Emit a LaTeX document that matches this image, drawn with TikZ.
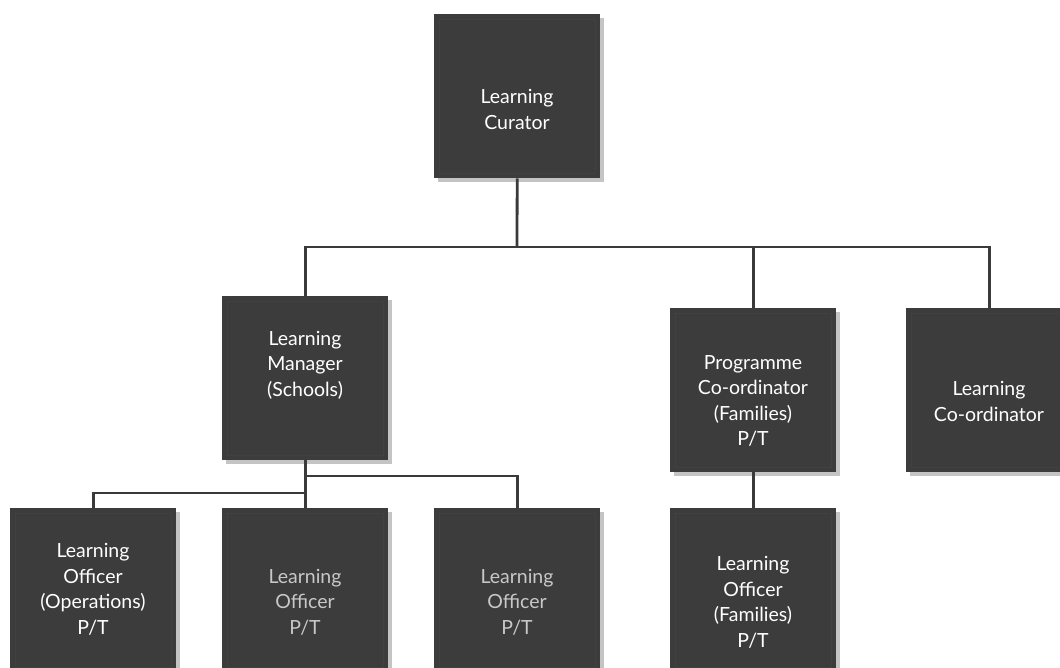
\documentclass[tikz,border=0pt]{standalone}
\usepackage{fontspec}
\setmainfont{Lato}
\usetikzlibrary{shadows}
\definecolor{boxc}{HTML}{3C3C3C}
\definecolor{innerc}{HTML}{414141}
\definecolor{shadc}{HTML}{C4C4C4}
\definecolor{linec}{HTML}{3A3A3A}
\definecolor{dimtxt}{HTML}{C8C8C8}
\tikzset{
  rolebox/.style={rectangle, fill=boxc, draw=none, minimum width=166pt, minimum height=164pt,
    inner sep=0pt, anchor=north west,
    drop shadow={shadow xshift=4pt, shadow yshift=-4pt, fill=shadc, opacity=1}},
  roletext/.style={align=center, text=white, inner sep=0pt,
    font=\fontsize{19.5}{25.5}\selectfont},
  dimtext/.style={roletext, text=dimtxt},
  conn/.style={draw=linec, line width=2.8pt}
}
\begin{document}
\begin{tikzpicture}[x=1pt,y=-1pt]
\useasboundingbox (0,0) rectangle (1060,668);
\clip (0,0) rectangle (1060,668);
% boxes
\node[rolebox] (cur) at (434,14) {};
\node[rolebox] (mgr) at (222,296) {};
\node[rolebox] (pc)  at (670,308) {};
\node[rolebox] (lc)  at (906,308) {};
\node[rolebox] (o1)  at (10,508) {};
\node[rolebox] (o2)  at (222,508) {};
\node[rolebox] (o3)  at (434,508) {};
\node[rolebox] (of)  at (670,508) {};
% subtle inner borders
\foreach \b in {cur,mgr,pc,lc,o1,o2,o3,of}{
  \draw[innerc, line width=0.8pt] ([xshift=5pt,yshift=-5pt]\b.north west) rectangle ([xshift=-5pt,yshift=5pt]\b.south east);
}
% texts
\node[roletext] (tcur) at (517,109.5) {Learning\\Curator};
\node[roletext] (tmgr) at (305,365) {Learning\\Manager\\(Schools)};
\node[roletext] (tpc)  at (753,401) {Programme\\Co-ordinator\\(Families)\\P/T};
\node[roletext] (tlc)  at (989,401.5) {Learning\\Co-ordinator};
\node[roletext] (to1)  at (93,589.5) {Learning\\Officer\\(Operations)\\P/T};
\node[dimtext]  (to2)  at (305,602) {Learning\\Officer\\P/T};
\node[dimtext]  (to3)  at (517,602) {Learning\\Officer\\P/T};
\node[roletext] (tof)  at (753,602.5) {Learning\\Officer\\(Families)\\P/T};
% connectors
\coordinate (b1) at (517,247);
\coordinate (b2) at (305,476);
\coordinate (b3) at (305,493);
\draw[conn] (cur.south) -- (b1);
\draw[conn] (mgr.north) |- (b1);
\draw[conn] (b1) -| (pc.north);
\draw[conn] (b1) -| (lc.north);
\draw[conn] (mgr.south) -- (o2.north);
\draw[conn] (b2) -| (o3.north);
\draw[conn] (b3) -| (o1.north);
\draw[conn] (pc.south) -- (of.north);
\end{tikzpicture}
\end{document}
